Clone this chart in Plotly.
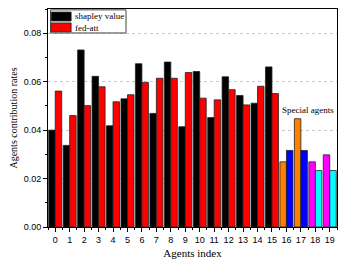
import plotly.graph_objects as go

agents = list(range(20))
shapley = [0.0400, 0.0337, 0.0731, 0.0622, 0.0418, 0.0529, 0.0674, 0.0469, 0.0681, 0.0414,
           0.0642, 0.0452, 0.0620, 0.0543, 0.0511, 0.0661, 0.0269, 0.0447, 0.0269, 0.0298]
fedatt = [0.0561, 0.0460, 0.0501, 0.0579, 0.0517, 0.0546, 0.0597, 0.0614, 0.0614, 0.0638,
          0.0532, 0.0525, 0.0567, 0.0504, 0.0581, 0.0551, 0.0316, 0.0316, 0.0233, 0.0233]
shapley_colors = ["#000000"] * 16 + ["#FF8000", "#FF8000", "#FF00FF", "#FF00FF"]
fedatt_colors = ["#FF0000"] * 16 + ["#0000FF", "#0000FF", "#00FFFF", "#00FFFF"]
tick_labels = [str(a) for a in agents]

fig = go.Figure()
fig.add_trace(go.Bar(x=agents, y=shapley, name="shapley value",
                     marker=dict(color=shapley_colors, line=dict(color="#222222", width=0.8)),
                     showlegend=False))
fig.add_trace(go.Bar(x=agents, y=fedatt, name="fed-att",
                     marker=dict(color=fedatt_colors, line=dict(color="#222222", width=0.8)),
                     showlegend=False))

serif = "Liberation Serif, Times New Roman, serif"
sans = "Liberation Sans, Arial, sans-serif"

fig.update_layout(
    width=346, height=260,
    margin=dict(l=48, r=9, t=9, b=33),
    paper_bgcolor="white", plot_bgcolor="white",
    barmode="group", bargap=0.1, bargroupgap=0,
    xaxis=dict(range=[-0.5, 19.5], tickvals=agents, ticktext=tick_labels,
               showgrid=False, zeroline=False, automargin=False,
               showline=True, linecolor="black", linewidth=1, mirror=True,
               ticks="outside", ticklen=4, tickcolor="black", tickwidth=1,
               minor=dict(ticks="outside", ticklen=2, tick0=0.5, dtick=1, tickcolor="black"),
               tickfont=dict(family=sans, size=9, color="black"),
               title=dict(text="Agents index", font=dict(family=serif, size=11, color="black"),
                          standoff=5)),
    yaxis=dict(range=[0, 0.09], tickvals=[0, 0.02, 0.04, 0.06, 0.08],
               ticktext=["0.00", "0.02", "0.04", "0.06", "0.08"],
               showgrid=True, gridcolor="#c8c8c8", griddash="dot", gridwidth=1,
               zeroline=False, automargin=False,
               showline=True, linecolor="black", linewidth=1, mirror=True,
               ticks="outside", ticklen=4, tickcolor="black", tickwidth=1,
               minor=dict(ticks="outside", ticklen=2, tick0=0.01, dtick=0.02, tickcolor="black",
                          showgrid=False),
               tickfont=dict(family=sans, size=9, color="black"),
               title=dict(text="Agents contribution rates", font=dict(family=serif, size=10, color="black"),
                          standoff=4)),
)

# legend drawn manually
shapes = [
    dict(type="rect", xref="paper", yref="paper", x0=0.009, x1=0.270, y0=0.890, y1=0.996,
         line=dict(color="#444444", width=1), fillcolor="white", layer="above"),
    dict(type="rect", xref="paper", yref="paper", x0=0.011, x1=0.080, y0=0.945, y1=0.986,
         line=dict(color="#222222", width=0.8), fillcolor="black", layer="above"),
    dict(type="rect", xref="paper", yref="paper", x0=0.011, x1=0.080, y0=0.895, y1=0.936,
         line=dict(color="#222222", width=0.8), fillcolor="red", layer="above"),
]
annotations = [
    dict(xref="paper", yref="paper", x=0.086, y=0.966, text="shapley value", showarrow=False,
         xanchor="left", yanchor="middle", font=dict(family=serif, size=9, color="black")),
    dict(xref="paper", yref="paper", x=0.086, y=0.915, text="fed-att", showarrow=False,
         xanchor="left", yanchor="middle", font=dict(family=serif, size=9, color="black")),
    dict(xref="x", yref="y", x=17.5, y=0.0484, text="Special agents", showarrow=False,
         xanchor="center", yanchor="middle", font=dict(family=serif, size=9, color="black")),
]
fig.update_layout(shapes=shapes, annotations=annotations)

fig.write_html("out.html", config={"displayModeBar": False},
               post_script="document.body.style.margin='0';document.body.style.overflow='hidden';")
